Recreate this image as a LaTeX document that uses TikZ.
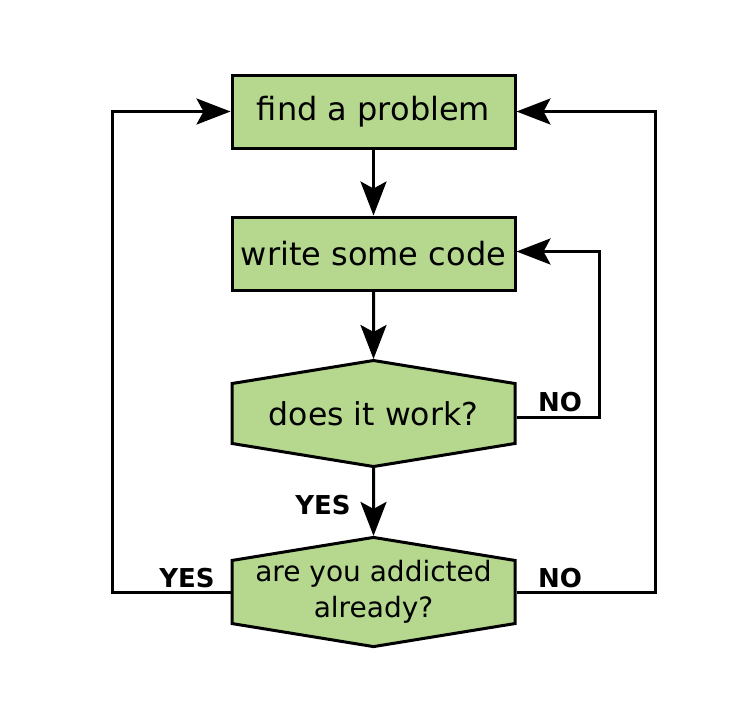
\documentclass[tikz,border=0pt]{standalone}
\usepackage{fontspec}
\setmainfont{DejaVu Sans}
\usetikzlibrary{arrows.meta,shapes.symbols}

\definecolor{boxgreen}{HTML}{B5D78E}

\tikzset{
  stepbox/.style={draw, fill=boxgreen, line width=3pt, minimum width=283pt,
    minimum height=73pt, inner sep=0pt, font=\fontsize{32}{36}\selectfont},
  testbox/.style={signal, signal to=north and south, signal from=nowhere,
    signal pointer angle=161.5, draw, fill=boxgreen, line width=3pt,
    minimum width=283pt, minimum height=94pt, inner sep=0pt, align=center},
  arr/.style={line width=3pt, -{Stealth[length=34pt,width=26pt,inset=7pt]}},
  answer/.style={font=\fontsize{26}{30}\selectfont\bfseries}
}

\begin{document}
\begin{tikzpicture}[x=1pt,y=-1pt]
\useasboundingbox (0,0) rectangle (751,721);

    \node[stepbox] (find) at (373.5,111.5) {find a problem};
    \node[stepbox] (code) at (373.5,253.5) {write some code};
    \node[testbox, font=\fontsize{31.5}{36}\selectfont] (work) at (373.5,413.5) {does it work?};
    \node[testbox, font=\fontsize{28}{36}\selectfont] (addict) at (373.5,592) {are you addicted\\already?};

    % the straight arrows
    \draw[arr] (find) -- (code);
    \draw[arr] (code) -- (work);
    \draw[arr] (work) -- (addict);

    % the loops back
    \draw[arr] ([yshift=-4]work.east) -- ++(83,0) |- ([yshift=2]code.east);
    \draw[arr] (addict.east) -- ++(139,0) |- (find.east);
    \draw[arr] (addict.west) -- ++(-118,0) |- (find.west);

    \node[answer] (yes1) at (323,505) {YES};
    \node[answer] (no1) at (560,402) {NO};
    \node[answer] (yes2) at (187,578) {YES};
    \node[answer] (no2) at (560,578) {NO};

\end{tikzpicture}
\end{document}
